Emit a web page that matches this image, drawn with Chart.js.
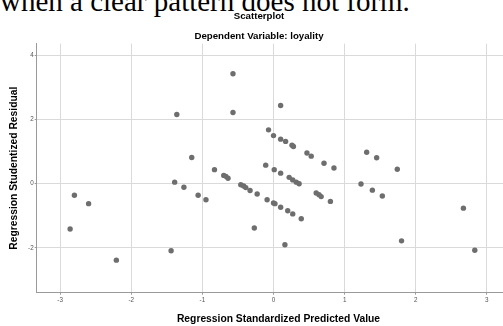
<!DOCTYPE html>
<html>
<head>
<meta charset="utf-8">
<script src="https://cdn.jsdelivr.net/npm/chart.js@4.4.1/dist/chart.umd.min.js"></script>
<style>
  html, body { margin: 0; padding: 0; width: 503px; height: 326px; overflow: hidden; background: #fff; }
  #wrap { position: absolute; left: -5px; top: 0; width: 528px; height: 326px; }
  #lead { position: absolute; left: 0; top: -13.5px; font-family: "Liberation Serif", "Times New Roman", serif; font-size: 29px; line-height: 1; color: #000; white-space: nowrap; }
</style>
</head>
<body>
<div id="lead">when a clear pattern does not form.</div>
<div id="wrap"><canvas id="c" width="528" height="326"></canvas></div>
<script>
// Regression Standardized Predicted Value (x) and Studentized Residual (y)
const predicted = [
  -2.80, -2.60, -2.86, -2.21, -0.57, -1.36, -0.57, 0.10, -0.07, 0.00,
  0.10, 0.17, 0.26, 0.28, 0.47, 0.53, 0.71, 0.85, -1.15, -0.83,
  -0.70, -0.67, -0.64, -0.11, 0.01, 0.10, 0.22, 0.27, 0.32, 0.36,
  -1.39, -1.26, -1.06, -0.95, -0.46, -0.42, -0.39, -0.33, -0.23, -0.09,
  0.00, 0.02, 0.10, 0.20, 0.27, 0.39, -0.27, 0.16, -1.44, 0.60,
  0.64, 0.67, 0.80, 1.31, 1.45, 1.74, 1.23, 1.39, 1.53, 2.67,
  1.80, 2.83
];
const residual = [
  -0.36, -0.62, -1.41, -2.38, 3.43, 2.16, 2.22, 2.44, 1.68, 1.50,
  1.39, 1.32, 1.20, 1.16, 0.96, 0.86, 0.64, 0.49, 0.82, 0.44,
  0.26, 0.23, 0.17, 0.58, 0.44, 0.33, 0.20, 0.12, 0.05, 0.00,
  0.05, -0.11, -0.36, -0.50, -0.03, -0.07, -0.12, -0.21, -0.32, -0.50,
  -0.60, -0.62, -0.73, -0.84, -0.94, -1.09, -1.38, -1.90, -2.09, -0.29,
  -0.34, -0.40, -0.55, 0.98, 0.81, 0.45, -0.01, -0.20, -0.38, -0.76,
  -1.78, -2.07
];
const xTicks = [-3, -2, -1, 0, 1, 2, 3];
const yTicks = [-2, 0, 2, 4];
const chartTitle = "Scatterplot";
const chartSubtitle = "Dependent Variable: loyality";
const xTitle = "Regression Standardized Predicted Value";
const yTitle = "Regression Studentized Residual";

const points = predicted.map((x, i) => ({ x: x, y: residual[i] }));
const FONT = "'Liberation Sans', Arial, sans-serif";

new Chart(document.getElementById('c'), {
  type: 'scatter',
  data: {
    datasets: [{
      data: points,
      backgroundColor: '#6e6e6e',
      borderWidth: 0,
      pointRadius: 2.7,
      pointHoverRadius: 2.7
    }]
  },
  options: {
    responsive: false,
    animation: false,
    layout: { padding: 0 },
    plugins: {
      legend: { display: false },
      tooltip: { enabled: false },
      title: {
        display: true, text: chartTitle, color: '#000',
        font: { family: FONT, size: 9.7, weight: 'bold', lineHeight: 1.2 },
        padding: { top: 10.5, bottom: 4.2 }
      },
      subtitle: {
        display: true, text: chartSubtitle, color: '#000',
        font: { family: FONT, size: 9.7, weight: 'bold', lineHeight: 1.2 },
        padding: { top: 4.5, bottom: 1.2 }
      }
    },
    scales: {
      x: {
        type: 'linear', min: -3.33, max: 3.47,
        afterFit: s => { s.height = 33.3; },
        afterBuildTicks: s => { s.ticks = xTicks.map(v => ({ value: v })); },
        ticks: { color: '#555', font: { family: FONT, size: 6.3 }, padding: 2, maxRotation: 0 },
        grid: { color: '#dadada', lineWidth: 1, tickLength: 2, tickColor: '#999' },
        border: { display: true, color: '#9a9a9a', width: 1 },
        title: {
          display: true, text: xTitle, color: '#000',
          font: { family: FONT, size: 10.3, weight: 'bold', lineHeight: 1.2 },
          padding: { top: 0, bottom: 0.5 }
        }
      },
      y: {
        type: 'linear', min: -3.395, max: 4.365,
        afterFit: s => { s.width = 41.7; },
        afterBuildTicks: s => { s.ticks = yTicks.map(v => ({ value: v })); },
        ticks: { color: '#555', font: { family: FONT, size: 6.3 }, padding: 1 },
        grid: { color: '#dadada', lineWidth: 1, tickLength: 2, tickColor: '#999' },
        border: { display: true, color: '#9a9a9a', width: 1 },
        title: {
          display: true, text: yTitle, color: '#000',
          font: { family: FONT, size: 10.3, weight: 'bold', lineHeight: 1.2 },
          padding: { top: 12.8, bottom: 0 }
        }
      }
    }
  }
});
</script>
</body>
</html>
